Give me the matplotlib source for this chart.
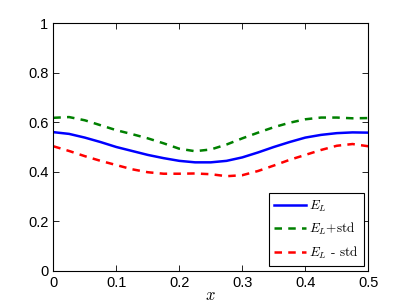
import matplotlib
matplotlib.use("Agg")
import matplotlib.pyplot as plt

plt.rcParams['font.family'] = ['Liberation Sans', 'DejaVu Sans']
plt.rcParams['mathtext.fontset'] = 'cm'

x = [0.0, 0.025, 0.05, 0.075, 0.1, 0.125, 0.15, 0.175, 0.2, 0.225, 0.25,
     0.275, 0.3, 0.325, 0.35, 0.375, 0.4, 0.425, 0.45, 0.475, 0.5]
e_l = [0.560, 0.553, 0.538, 0.520, 0.500, 0.484, 0.468, 0.455, 0.444, 0.438, 0.438,
       0.444, 0.458, 0.478, 0.500, 0.520, 0.538, 0.549, 0.556, 0.559, 0.558]
e_plus = [0.618, 0.621, 0.608, 0.588, 0.568, 0.552, 0.535, 0.515, 0.493, 0.483, 0.490,
          0.510, 0.535, 0.558, 0.580, 0.598, 0.612, 0.619, 0.619, 0.616, 0.617]
e_minus = [0.503, 0.484, 0.463, 0.444, 0.427, 0.410, 0.398, 0.392, 0.392, 0.393, 0.390,
           0.382, 0.386, 0.403, 0.425, 0.448, 0.468, 0.488, 0.505, 0.512, 0.503]
labels = [r'$E_L$', r'$E_L$+std', r'$E_L$ - std']
xticks = [0, 0.1, 0.2, 0.3, 0.4, 0.5]
yticks = [0, 0.2, 0.4, 0.6, 0.8, 1]

fig = plt.figure(figsize=(4.07, 3.06), dpi=100)
ax = fig.add_axes([53.3/407, 1 - 270.7/306, 315/407, 247.4/306])
ax.plot(x, e_l, color='#0000ff', lw=1.8, label=labels[0])
ax.plot(x, e_plus, color='#008000', lw=1.8, ls=(0, (3, 2.5)), label=labels[1])
ax.plot(x, e_minus, color='#ff0000', lw=1.8, ls=(0, (3, 2.5)), label=labels[2])
ax.set_xlim(0, 0.5)
ax.set_ylim(0, 1)
ax.set_xticks(xticks)
ax.set_xticklabels(['0', '0.1', '0.2', '0.3', '0.4', '0.5'])
ax.set_yticks(yticks)
ax.set_yticklabels(['0', '0.2', '0.4', '0.6', '0.8', '1'])
ax.tick_params(direction='in', top=True, right=True, labelsize=10.5, length=4, width=0.6)
for s in ax.spines.values():
    s.set_linewidth(0.8)
ax.set_xlabel(r'$x$', fontsize=12, labelpad=-1)
leg = ax.legend(loc='lower right', frameon=True, fancybox=False, edgecolor='black',
                framealpha=1, handlelength=2.4, handletextpad=0.25, borderaxespad=0.35,
                borderpad=0.4, labelspacing=0.55, prop={'family': 'cmr10', 'size': 9.5})
leg.get_frame().set_linewidth(0.8)
fig.savefig('out.png', dpi=100)
